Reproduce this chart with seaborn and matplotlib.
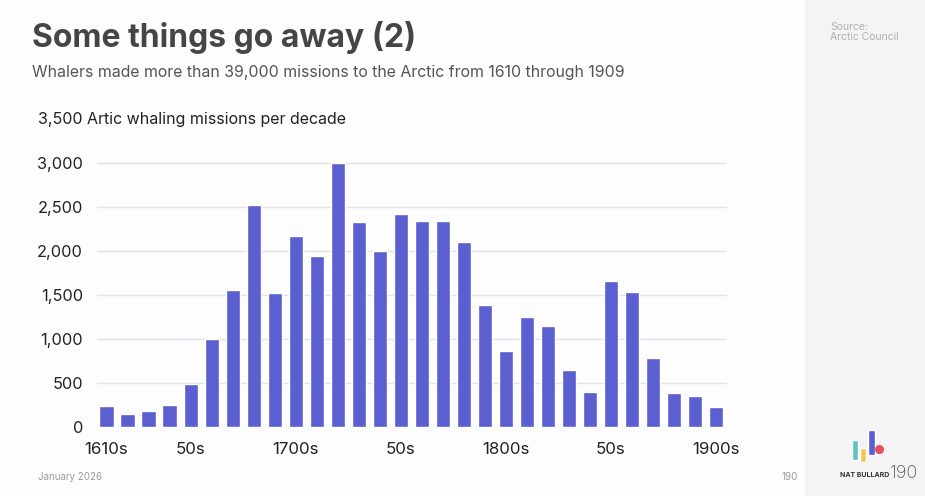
import pandas as pd
import numpy as np
import matplotlib.pyplot as plt
import seaborn as sns

sns.set_theme(style="white")
plt.rcParams['font.family'] = ['Inter', 'DejaVu Sans']

# Missions per decade, 1610s..1900s
decades = [str(y) + "s" for y in range(1610, 1910, 10)]
missions = [242, 152, 178, 250, 485, 1004, 1557, 2523, 1519, 2174,
            1943, 3000, 2333, 1996, 2420, 2341, 2341, 2102, 1386, 864,
            1254, 1152, 648, 398, 1655, 1530, 780, 386, 348, 231]
tick_pos = [0, 4, 9, 14, 19, 24, 29]
tick_labels = ["1610s", "50s", "1700s", "50s", "1800s", "50s", "1900s"]
y_ticks = [0, 500, 1000, 1500, 2000, 2500, 3000]

df = pd.DataFrame({"decade": decades, "missions": missions})

fig = plt.figure(figsize=(9.25, 4.96), dpi=100)
fig.patch.set_facecolor("#fdfdfd")

# grey side panel on the right
fig.add_artist(plt.Rectangle((805 / 925, 0), 120 / 925, 1, transform=fig.transFigure,
                             color="#f4f4f5", zorder=0))

ax = fig.add_axes([97 / 925, 1 - 427 / 496, 630 / 925, 308 / 496])
ax.set_facecolor("#fdfdfd")
sns.barplot(data=df, x="decade", y="missions", color="#5b5fd0", saturation=1,
            width=0.67, ax=ax, zorder=3)

ax.set_xlim(-0.45, 29.52)
ax.set_ylim(0, 3500)
ax.set_yticks(y_ticks)
ax.set_yticklabels([f"{v:,}" for v in y_ticks], fontsize=11.8, color="#222222")
ax.set_xticks(tick_pos)
ax.set_xticklabels(tick_labels, fontsize=12.2, color="#222222")
ax.tick_params(axis="x", length=0, pad=11)
ax.tick_params(axis="y", length=0, pad=10)
ax.yaxis.grid(True, color="#e2e2ea", linewidth=1, zorder=0)
ax.set_xlabel("")
ax.set_ylabel("")
for s in ax.spines.values():
    s.set_visible(False)

fig.text(38 / 925, 1 - 119 / 496, "3,500 Artic whaling missions per decade",
         ha="left", va="center", fontsize=11.5, color="#222222")

fig.text(32 / 925, 1 - 38 / 496, "Some things go away (2)", fontsize=23, fontweight="bold",
         color="#454545", va="center")
fig.text(32 / 925, 1 - 73 / 496,
         "Whalers made more than 39,000 missions to the Arctic from 1610 through 1909",
         fontsize=11.4, color="#555555", va="center")
fig.text(830 / 925, 1 - 32 / 496, "Source:\nArctic Council", fontsize=7.5, color="#b0b0b0",
         va="center", linespacing=1.0)
fig.text(38 / 925, 1 - 477 / 496, "January 2026", fontsize=7, color="#9a9a9a", va="center")
fig.text(781 / 925, 1 - 477 / 496, "190", fontsize=7, color="#9a9a9a", va="center")
fig.text(840 / 925, 1 - 475 / 496, "NAT BULLARD", fontsize=5, fontweight="bold",
         color="#333333", va="center")
fig.text(890 / 925, 1 - 474 / 496, "190", fontsize=13, color="#555555", va="center",
         fontweight="light")

# small logo bars
logo = fig.add_axes([851 / 925, 1 - 462 / 496, 32 / 925, 34 / 496])
logo.bar([0, 1, 2], [0.6, 0.42, 0.75], bottom=[0.05, 0.0, 0.2], width=0.75,
         color=["#5bc4c0", "#f5c55a", "#5a5fd0"])
logo.scatter([2.9], [0.38], s=30, color="#e8505b")
logo.set_xlim(-0.5, 3.4)
logo.set_ylim(0, 1.0)
logo.axis("off")

fig.savefig("out.png", dpi=100, facecolor=fig.get_facecolor())
